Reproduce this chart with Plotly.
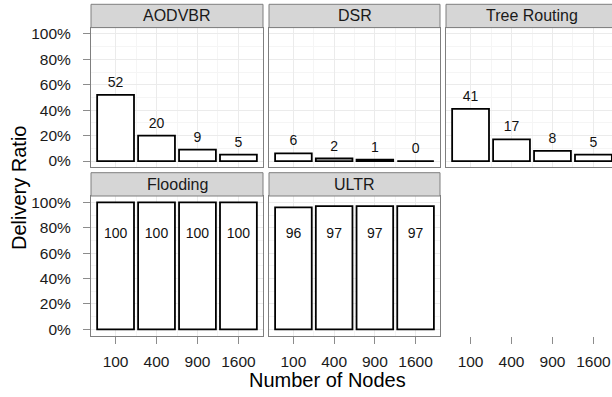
import plotly.graph_objects as go

# ---------------- data ----------------
node_counts = ["100", "400", "900", "1600"]
protocols = ["AODVBR", "DSR", "Tree Routing", "Flooding", "ULTR"]
aodvbr = [52, 20, 9, 5]
dsr = [6, 2, 1, 0]
tree_routing = [41, 17, 8, 5]
flooding = [100, 100, 100, 100]
ultr = [96, 97, 97, 97]
series = [aodvbr, dsr, tree_routing, flooding, ultr]
y_tick_vals = [0, 20, 40, 60, 80, 100]
y_tick_labels = ["0%", "20%", "40%", "60%", "80%", "100%"]
x_title = "Number of Nodes"
y_title = "Delivery Ratio"

# ---------------- layout geometry (pixels) ----------------
W, H = 612, 397
cols_px = [(91, 263), (269, 440), (446, 618)]
rows_px = [(27.6, 167.4), (196.0, 335.7)]  # top, bottom of plot areas
strip_h = 23.3
XR = (0.4, 4.6)
YR = (-5, 105)

def px_x(v):
    return v / W

def px_y(v):
    return 1 - v / H

FONT = "Liberation Sans, Arial, sans-serif"
BORDER = "#7f7f7f"
GRID_MAJ = "#ebebeb"
GRID_MIN = "#f5f5f5"
STRIP_FILL = "#d6d6d6"

fig = go.Figure()
xpos = list(range(1, len(node_counts) + 1))

layout_axes = {}
shapes = []
annotations = []

for i, (name, vals) in enumerate(zip(protocols, series)):
    r, c = divmod(i, 3)
    idx = i + 1
    xa = "x" if idx == 1 else f"x{idx}"
    ya = "y" if idx == 1 else f"y{idx}"
    fig.add_trace(go.Bar(
        x=xpos, y=vals, width=0.9, xaxis=xa, yaxis=ya,
        marker=dict(color="white", line=dict(color="black", width=1.8)),
        showlegend=False, hoverinfo="skip"))
    label_y = [v + 9 if r == 0 else min(v + 9, 75) for v in vals]
    fig.add_trace(go.Scatter(
        x=xpos, y=label_y, mode="text", text=[str(v) for v in vals],
        textfont=dict(family=FONT, size=14, color="#111111"),
        xaxis=xa, yaxis=ya, showlegend=False, hoverinfo="skip", cliponaxis=False))

# phantom subplot for the empty slot (carries only the x axis)
fig.add_trace(go.Scatter(x=[], y=[], xaxis="x6", yaxis="y6", showlegend=False))

for idx in range(1, 7):
    r, c = divmod(idx - 1, 3)
    x0p, x1p = cols_px[c]
    dx1 = min(x1p, W)
    xr_end = XR[0] + (XR[1] - XR[0]) * (dx1 - x0p) / (x1p - x0p)
    top, bot = rows_px[r]
    xdom = [px_x(x0p), px_x(dx1)]
    ydom = [px_y(bot), px_y(top)]
    xkey = "xaxis" if idx == 1 else f"xaxis{idx}"
    ykey = "yaxis" if idx == 1 else f"yaxis{idx}"
    yanchor = "y" if idx == 1 else f"y{idx}"
    xanchor = "x" if idx == 1 else f"x{idx}"
    bottom_axis = (r == 1)
    if idx == 6:
        layout_axes[xkey] = dict(
            domain=xdom, range=[XR[0], xr_end], anchor=yanchor,
            showgrid=False, zeroline=False, showline=False,
            tickmode="array", tickvals=xpos, ticktext=node_counts,
            ticks="outside", ticklen=7, tickcolor="#8c8c8c", tickwidth=1,
            ticklabelstandoff=5,
            tickfont=dict(family=FONT, size=15.5, color="#1a1a1a"))
        layout_axes[ykey] = dict(domain=ydom, range=list(YR), anchor=xanchor,
                                 visible=False)
        continue
    layout_axes[xkey] = dict(
        domain=xdom, range=[XR[0], xr_end], anchor=yanchor,
        showgrid=True, gridcolor=GRID_MAJ, gridwidth=1, zeroline=False,
        showline=True, linecolor=BORDER, linewidth=1, mirror=True,
        tickmode="array", tickvals=xpos, ticktext=node_counts,
        showticklabels=bottom_axis,
        ticks="outside" if bottom_axis else "", ticklen=7, tickcolor="#8c8c8c",
        tickwidth=1, ticklabelstandoff=5,
        tickfont=dict(family=FONT, size=15.5, color="#1a1a1a"),
        minor=dict(showgrid=True, gridcolor=GRID_MIN, gridwidth=1,
                   tickmode="array", tickvals=[1.5, 2.5, 3.5]))
    first_col = (c == 0)
    layout_axes[ykey] = dict(
        domain=ydom, range=list(YR), anchor=xanchor,
        showgrid=True, gridcolor=GRID_MAJ, gridwidth=1, zeroline=False,
        showline=True, linecolor=BORDER, linewidth=1,
        mirror=(x1p <= W),
        tickmode="array", tickvals=y_tick_vals, ticktext=y_tick_labels,
        showticklabels=first_col,
        ticks="outside" if first_col else "", ticklen=7, tickcolor="#8c8c8c",
        tickwidth=1, ticklabelstandoff=9,
        tickfont=dict(family=FONT, size=15.5, color="#1a1a1a"),
        minor=dict(showgrid=True, gridcolor=GRID_MIN, gridwidth=1,
                   tickmode="array", tickvals=[10, 30, 50, 70, 90]))

    # strip
    s_bot = top
    s_top = top - strip_h
    shapes.append(dict(type="rect", xref="paper", yref="paper",
                       x0=px_x(x0p), x1=px_x(x1p), y0=px_y(s_bot), y1=px_y(s_top),
                       fillcolor=STRIP_FILL, line=dict(color=BORDER, width=1),
                       layer="above"))
    annotations.append(dict(text=protocols[idx - 1], xref="paper", yref="paper",
                            x=px_x((x0p + x1p) / 2), y=px_y((s_top + s_bot) / 2),
                            xanchor="center", yanchor="middle", showarrow=False,
                            font=dict(family=FONT, size=16, color="#1a1a1a")))

annotations.append(dict(text=x_title, xref="paper", yref="paper",
                        x=px_x(327), y=px_y(380), xanchor="center", yanchor="middle",
                        showarrow=False, font=dict(family=FONT, size=20, color="black")))
annotations.append(dict(text=y_title, xref="paper", yref="paper",
                        x=px_x(19), y=px_y(188), xanchor="center", yanchor="middle",
                        textangle=-90, showarrow=False,
                        font=dict(family=FONT, size=20, color="black")))

fig.update_layout(
    width=W, height=H, margin=dict(l=0, r=0, t=0, b=0, autoexpand=False),
    paper_bgcolor="white", plot_bgcolor="white", hovermode=False,
    shapes=shapes, annotations=annotations, bargap=0, **layout_axes)

fig.write_html("out.html",
               config={"displayModeBar": False, "staticPlot": True},
               post_script="document.body.style.margin='0';"
                           "document.body.style.overflow='hidden';")
